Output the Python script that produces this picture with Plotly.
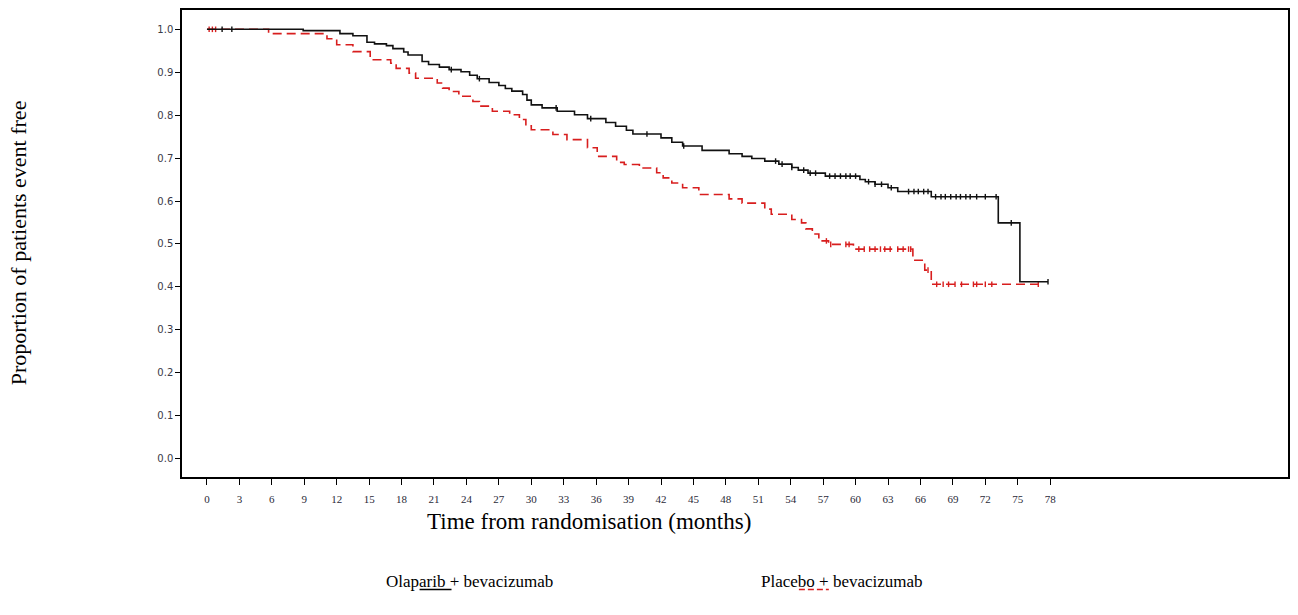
import numpy as np
import plotly.graph_objects as go

# Olaparib + bevacizumab: event times (months) and survival after each event
ola_time = [0, 8.9, 12.3, 13.5, 14.8, 15.5, 16.6, 17.2, 18.2, 18.6, 19.9, 20.5, 21.5,
            22.4, 23.5, 24.3, 25.0, 26.1, 27.0, 27.6, 28.2, 29.2, 29.6, 30.0, 31.0,
            32.4, 34.0, 35.2, 36.9, 37.8, 38.8, 39.4, 42.0, 43.0, 44.0, 45.8, 48.3,
            49.5, 50.4, 51.6, 52.9, 54.1, 54.7, 55.6, 57.2, 60.4, 60.9, 61.8, 63.0,
            63.9, 67.0, 73.2, 75.2]
ola_surv = [1.0, 0.997, 0.99, 0.985, 0.97, 0.966, 0.962, 0.955, 0.947, 0.940, 0.925,
            0.918, 0.912, 0.906, 0.901, 0.893, 0.885, 0.876, 0.869, 0.862, 0.856,
            0.848, 0.835, 0.824, 0.817, 0.809, 0.801, 0.792, 0.783, 0.774, 0.765,
            0.756, 0.747, 0.737, 0.728, 0.718, 0.710, 0.704, 0.699, 0.693, 0.686,
            0.678, 0.672, 0.665, 0.658, 0.650, 0.645, 0.639, 0.631, 0.622, 0.610,
            0.549, 0.412]
ola_last = 77.8
ola_censor = [1.4, 2.3, 22.6, 25.2, 32.3, 35.5, 40.7, 44.1, 52.6, 53.2, 54.1, 55.2,
              55.8, 56.3, 57.6, 58.1, 58.6, 59.1, 59.5, 60.0, 61.2, 61.8, 62.4, 63.3,
              64.9, 65.4, 65.8, 66.3, 66.7, 67.4, 67.9, 68.3, 68.8, 69.3, 69.7, 70.2,
              70.6, 71.2, 72.0, 73.0, 74.4, 77.8]

# Placebo + bevacizumab
pla_time = [0, 5.7, 11.1, 12.0, 13.5, 15.1, 17.0, 17.5, 18.7, 19.3, 21.3, 21.8, 22.4,
            23.3, 24.6, 25.2, 26.4, 28.0, 28.9, 29.5, 30.0, 32.0, 33.3, 35.2, 36.1,
            37.9, 38.6, 40.0, 41.6, 42.2, 43.0, 44.0, 45.5, 48.3, 49.5, 51.6, 52.2,
            54.1, 55.0, 55.4, 56.0, 56.6, 57.5, 59.8, 65.3, 66.4, 67.0]
pla_surv = [1.0, 0.990, 0.978, 0.964, 0.948, 0.929, 0.921, 0.909, 0.898, 0.886, 0.875,
            0.863, 0.855, 0.844, 0.832, 0.821, 0.809, 0.801, 0.790, 0.775, 0.766,
            0.755, 0.743, 0.724, 0.704, 0.690, 0.685, 0.677, 0.666, 0.654, 0.642,
            0.631, 0.615, 0.605, 0.595, 0.581, 0.569, 0.557, 0.549, 0.535, 0.523,
            0.507, 0.499, 0.488, 0.462, 0.439, 0.406]
pla_last = 76.9
pla_censor = [0.2, 0.5, 0.8, 57.3, 57.7, 59.1, 59.4, 60.3, 60.8, 61.3, 61.8, 62.3,
              62.7, 63.2, 63.9, 64.4, 64.9, 65.1, 66.7, 67.5, 68.1, 68.6, 69.2, 69.8,
              70.9, 71.2, 72.0, 72.6, 76.9]

x_ticks = list(range(0, 79, 3))
y_ticks = [round(0.1 * i, 1) for i in range(11)]

BLACK = "#111111"
RED = "#d81e1e"


def step_value(times, surv, t):
    idx = np.searchsorted(np.asarray(times), t, side="right") - 1
    return float(np.asarray(surv)[idx])


def curve_trace(times, surv, last, color, dash, name):
    xs = list(times) + [last]
    ys = list(surv) + [surv[-1]]
    return go.Scatter(x=xs, y=ys, mode="lines", line_shape="hv", name=name,
                      line=dict(color=color, width=1.6, dash=dash), showlegend=False)


def censor_trace(times, surv, cens, color, name):
    ys = [step_value(times, surv, t) for t in cens]
    return go.Scatter(x=cens, y=ys, mode="markers", name=name, showlegend=False,
                      marker=dict(symbol="line-ns", size=4,
                                  line=dict(color=color, width=1.4)))


fig = go.Figure()
fig.add_trace(curve_trace(pla_time, pla_surv, pla_last, RED, "9px,5px",
                          "Placebo + bevacizumab"))
fig.add_trace(censor_trace(pla_time, pla_surv, pla_censor, RED, "Placebo censored"))
fig.add_trace(curve_trace(ola_time, ola_surv, ola_last, BLACK, "solid",
                          "Olaparib + bevacizumab"))
fig.add_trace(censor_trace(ola_time, ola_surv, ola_censor, BLACK, "Olaparib censored"))

W, H = 1298, 615
L, R, T, B = 182, 8, 8, 138
PW, PH = W - L - R, H - T - B


def px(x):
    return (x - L) / PW


def py(y):
    return 1 - (y - T) / PH


serif = "Liberation Serif, Times New Roman, serif"
tick_font = dict(family="DejaVu Sans, sans-serif", size=10, color="#3a3a48")

fig.update_layout(
    width=W, height=H,
    margin=dict(l=L, r=R, t=T, b=B),
    paper_bgcolor="white", plot_bgcolor="white",
    xaxis=dict(range=[-2.31, 100], tickvals=x_ticks, ticktext=[str(v) for v in x_ticks],
               showgrid=False, zeroline=False, showline=True, mirror=True,
               linecolor="black", linewidth=1.5, ticks="outside", ticklen=6,
               tickwidth=1.2, tickcolor="black", ticklabelstandoff=5,
               tickfont=dict(family=serif, size=11, color="#2a2a38")),
    yaxis=dict(range=[-0.043, 1.045], tickvals=y_ticks, tickformat=".1f",
               showgrid=False, zeroline=False, showline=True, mirror=True,
               linecolor="black", linewidth=1.5, ticks="outside", ticklen=5,
               tickwidth=1.2, tickcolor="black", tickfont=tick_font),
)

# Axis titles
fig.add_annotation(text="Time from randomisation (months)", xref="paper", yref="paper",
                   x=px(590), y=py(522), xanchor="center", yanchor="middle",
                   showarrow=False, font=dict(family=serif, size=23, color="black"))
fig.add_annotation(text="Proportion of patients event free", xref="paper", yref="paper",
                   x=px(18), y=py(242), xanchor="center", yanchor="middle",
                   showarrow=False, textangle=-90,
                   font=dict(family=serif, size=22, color="black"))

# Legend entries with their line samples
fig.add_annotation(text="Olaparib + bevacizumab", xref="paper", yref="paper",
                   x=px(384), y=py(582), xanchor="left", yanchor="middle",
                   showarrow=False, font=dict(family=serif, size=17, color="black"))
fig.add_annotation(text="Placebo + bevacizumab", xref="paper", yref="paper",
                   x=px(760), y=py(582), xanchor="left", yanchor="middle",
                   showarrow=False, font=dict(family=serif, size=17, color="black"))
fig.add_shape(type="line", xref="paper", yref="paper", x0=px(420), x1=px(452),
              y0=py(590), y1=py(590), line=dict(color="black", width=1.5))
fig.add_shape(type="line", xref="paper", yref="paper", x0=px(800), x1=px(830),
              y0=py(590), y1=py(590), line=dict(color=RED, width=1.5, dash="6px,3px"))

fig.write_html("out.html")
